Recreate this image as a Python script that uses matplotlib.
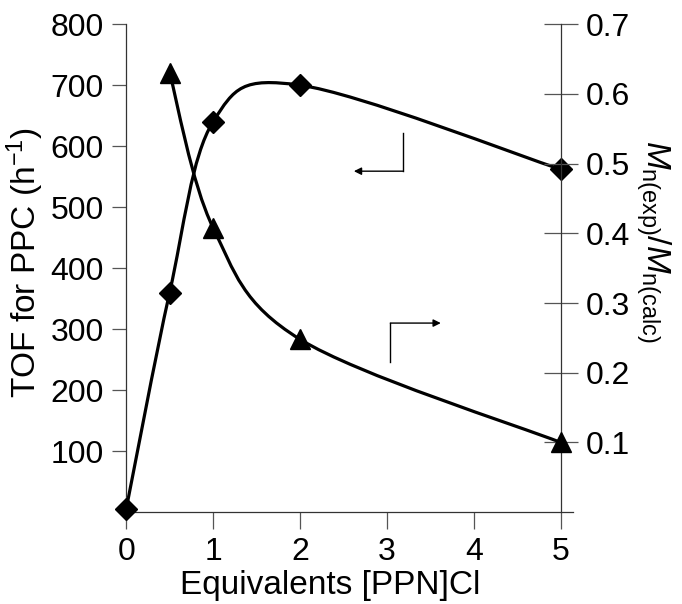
import matplotlib
matplotlib.use("Agg")
import matplotlib.pyplot as plt
from matplotlib.path import Path
from matplotlib.patches import PathPatch

plt.rcParams['font.family'] = ['Liberation Sans', 'DejaVu Sans']
plt.rcParams['mathtext.fontset'] = 'custom'
plt.rcParams['mathtext.rm'] = 'Liberation Sans'
plt.rcParams['mathtext.it'] = 'Liberation Sans:italic'

# data
equiv_tof = [0, 0.5, 1, 2, 5]
tof = [5, 360, 640, 700, 562]          # left axis, TOF for PPC (h-1)
equiv_mn = [0.5, 1, 2, 5]
mn_ratio = [0.63, 0.408, 0.248, 0.10]  # right axis, Mn(exp)/Mn(calc)

x_ticks = [0, 1, 2, 3, 4, 5]
left_ticks = [100, 200, 300, 400, 500, 600, 700, 800]
right_ticks = [0.1, 0.2, 0.3, 0.4, 0.5, 0.6, 0.7]


def smooth_path(xs, ys):
    # spreadsheet-style smoothed line: cubic bezier through every point
    pts = list(zip(xs, ys))
    verts = [pts[0]]
    codes = [Path.MOVETO]
    n = len(pts)
    for i in range(n - 1):
        p0 = pts[max(i - 1, 0)]
        p1 = pts[i]
        p2 = pts[i + 1]
        p3 = pts[min(i + 2, n - 1)]
        c1 = (p1[0] + (p2[0] - p0[0]) / 6, p1[1] + (p2[1] - p0[1]) / 6)
        c2 = (p2[0] - (p3[0] - p1[0]) / 6, p2[1] - (p3[1] - p1[1]) / 6)
        verts += [c1, c2, p2]
        codes += [Path.CURVE4] * 3
    return Path(verts, codes)


fig = plt.figure(figsize=(6.82, 6.04), dpi=100)
ax = fig.add_axes([0.185, 0.152, 0.655, 0.808])
ax2 = ax.twinx()

ax.add_patch(PathPatch(smooth_path(equiv_tof, tof), fill=False, lw=2.3,
                       color='black', capstyle='round', joinstyle='round'))
ax.plot(equiv_tof, tof, linestyle='none', marker='D', markersize=11,
        color='black', clip_on=False, zorder=5)

ax2.add_patch(PathPatch(smooth_path(equiv_mn, mn_ratio), fill=False, lw=2.3,
                        color='black', capstyle='round', joinstyle='round'))
ax2.plot(equiv_mn, mn_ratio, linestyle='none', marker='^', markersize=15,
         color='black', clip_on=False, zorder=5)

ax.set_xlim(0, 5.14)
ax.set_ylim(0, 800)
ax2.set_ylim(0, 0.7)

ax.set_xticks(x_ticks)
ax.set_yticks(left_ticks)
ax2.set_yticks(right_ticks)
ax2.set_yticklabels([f"{v:.1f}" for v in right_ticks])

for s in ['top', 'right']:
    ax.spines[s].set_visible(False)
for s in ['top', 'left', 'bottom']:
    ax2.spines[s].set_visible(False)
ax2.spines['right'].set_position(('data', 5))
for sp in [ax.spines['left'], ax.spines['bottom'], ax2.spines['right']]:
    sp.set_linewidth(0.9)
    sp.set_color('#333333')

ax.tick_params(axis='y', labelsize=23, length=10, width=0.9,
               color='#555555', pad=6)
ax.tick_params(axis='x', labelsize=23, length=12, width=0.9,
               color='#555555', pad=6)
ax2.tick_params(axis='y', direction='inout', length=24, width=0.9,
                color='#555555', labelsize=23, pad=6)

ax.set_xlabel('Equivalents [PPN]Cl', fontsize=24)
ax.xaxis.set_label_coords(0.456, -0.118)
ax.set_ylabel('TOF for PPC (h$^{-1}$)', fontsize=24)
ax.yaxis.set_label_coords(-0.18, 0.512)

fig.text(0.958, 0.6, r'$\mathit{M}_{\mathrm{n(exp)}}/\mathit{M}_{\mathrm{n(calc)}}$',
         rotation=-90, fontsize=24, ha='center', va='center')

# corner arrows telling which curve goes with which axis
ax.plot([3.19, 3.19], [621, 559], color='black', lw=1)
ax.annotate('', xy=(2.62, 559), xytext=(3.19, 559),
            arrowprops=dict(arrowstyle='-|>', color='black', lw=1,
                            mutation_scale=11, shrinkA=0, shrinkB=0))
ax.plot([3.04, 3.04], [246, 310], color='black', lw=1)
ax.annotate('', xy=(3.62, 310), xytext=(3.04, 310),
            arrowprops=dict(arrowstyle='-|>', color='black', lw=1,
                            mutation_scale=11, shrinkA=0, shrinkB=0))

fig.savefig('out.png', dpi=100)
